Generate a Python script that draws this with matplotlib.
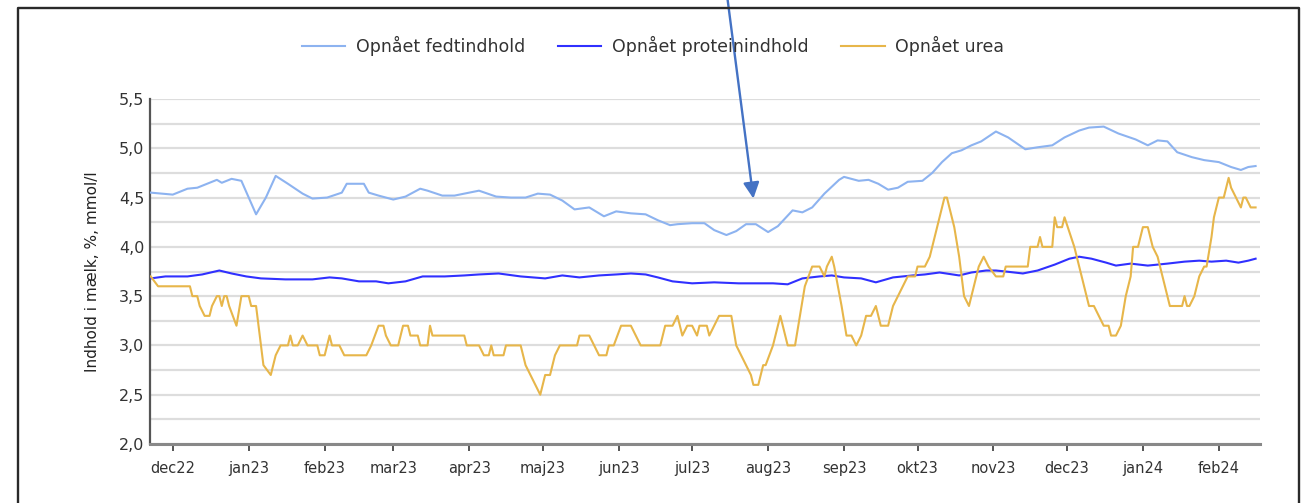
import numpy as np
import pandas as pd
import matplotlib
matplotlib.use("Agg")
import matplotlib.pyplot as plt
from matplotlib.lines import Line2D
from matplotlib.ticker import MultipleLocator, FixedLocator

# day offsets are counted from 1 Dec 2022
base_date = pd.Timestamp("2022-12-01")

fat_days = [-9, 0, 6, 10, 14, 18, 20, 24, 28, 31, 34, 38, 42, 47, 53, 57, 63, 69, 71, 78,
            80, 84, 90, 95, 101, 104, 110, 115, 125, 132, 138, 144, 149, 154, 159, 164,
            170, 176, 181, 187, 193, 198, 203, 206, 212, 217, 221, 226, 230, 234, 238,
            243, 247, 253, 257, 261, 266, 272, 274, 280, 284, 288, 292, 296, 300, 306,
            310, 314, 318, 322, 326, 330, 336, 341, 348, 353, 359, 364, 370, 374, 380,
            386, 393, 398, 402, 406, 410, 416, 421, 427, 432, 436, 439, 442]
fat_values = [4.55, 4.53, 4.59, 4.60, 4.64, 4.68, 4.65, 4.69, 4.67, 4.50, 4.33, 4.50, 4.72,
              4.64, 4.54, 4.49, 4.50, 4.55, 4.64, 4.64, 4.55, 4.52, 4.48, 4.51, 4.59, 4.57,
              4.52, 4.52, 4.57, 4.51, 4.50, 4.50, 4.54, 4.53, 4.47, 4.38, 4.40, 4.31, 4.36,
              4.34, 4.33, 4.27, 4.22, 4.23, 4.24, 4.24, 4.17, 4.12, 4.16, 4.23, 4.23, 4.15,
              4.21, 4.37, 4.35, 4.40, 4.54, 4.68, 4.71, 4.67, 4.68, 4.64, 4.58, 4.60, 4.66,
              4.67, 4.75, 4.86, 4.95, 4.98, 5.03, 5.07, 5.17, 5.11, 4.99, 5.01, 5.03, 5.11,
              5.18, 5.21, 5.22, 5.15, 5.09, 5.03, 5.08, 5.07, 4.96, 4.91, 4.88, 4.86, 4.81,
              4.78, 4.81, 4.82]

protein_days = [-9, -3, 6, 12, 19, 24, 30, 36, 46, 57, 64, 69, 76, 83, 88, 95, 102, 107,
                111, 119, 125, 133, 142, 152, 159, 166, 174, 181, 187, 193, 198, 204, 212,
                221, 231, 245, 251, 257, 264, 269, 274, 281, 287, 294, 302, 307, 313, 321,
                326, 332, 336, 340, 347, 353, 360, 366, 370, 375, 381, 385, 391, 398, 406,
                413, 419, 424, 430, 435, 439, 442]
protein_values = [3.68, 3.70, 3.70, 3.72, 3.76, 3.73, 3.70, 3.68, 3.67, 3.67, 3.69, 3.68,
                  3.65, 3.65, 3.63, 3.65, 3.70, 3.70, 3.70, 3.71, 3.72, 3.73, 3.70, 3.68,
                  3.71, 3.69, 3.71, 3.72, 3.73, 3.72, 3.69, 3.65, 3.63, 3.64, 3.63, 3.63,
                  3.62, 3.68, 3.70, 3.71, 3.69, 3.68, 3.64, 3.69, 3.71, 3.72, 3.74, 3.71,
                  3.74, 3.76, 3.76, 3.75, 3.73, 3.76, 3.82, 3.88, 3.90, 3.88, 3.84, 3.81,
                  3.83, 3.81, 3.83, 3.85, 3.86, 3.85, 3.86, 3.84, 3.86, 3.88]

urea_days = [-9, -6, 7, 8, 10, 11, 13, 15, 16, 18, 19, 20, 21, 22, 23, 26, 28, 31, 32, 34,
             36, 37, 40, 42, 44, 47, 48, 49, 51, 53, 55, 59, 60, 62, 64, 65, 68, 70, 79, 81,
             84, 86, 87, 89, 92, 94, 96, 97, 100, 101, 104, 105, 106, 119, 120, 125, 127,
             129, 130, 131, 135, 136, 142, 144, 146, 148, 150, 152, 154, 156, 158, 165, 166,
             170, 172, 174, 177, 178, 180, 183, 187, 189, 191, 199, 201, 204, 206, 208, 210,
             212, 214, 215, 218, 219, 221, 223, 228, 230, 234, 236, 237, 239, 241, 242, 245,
             248, 249, 251, 254, 256, 258, 261, 264, 266, 267, 269, 270, 273, 275, 277, 279,
             281, 283, 285, 287, 289, 292, 294, 296, 298, 300, 303, 304, 307, 309, 311, 313,
             315, 316, 319, 321, 323, 325, 327, 329, 331, 333, 336, 339, 340, 349, 350, 353,
             354, 355, 359, 360, 361, 363, 364, 368, 370, 371, 374, 376, 378, 380, 382, 383,
             385, 387, 389, 391, 392, 394, 396, 398, 400, 402, 403, 406, 407, 412, 413, 414,
             415, 417, 419, 421, 422, 424, 425, 427, 429, 431, 432, 434, 436, 437, 438, 440,
             442]
urea_values = [3.7, 3.6, 3.6, 3.5, 3.5, 3.4, 3.3, 3.3, 3.4, 3.5, 3.5, 3.4, 3.5, 3.5, 3.4,
               3.2, 3.5, 3.5, 3.4, 3.4, 3.0, 2.8, 2.7, 2.9, 3.0, 3.0, 3.1, 3.0, 3.0, 3.1,
               3.0, 3.0, 2.9, 2.9, 3.1, 3.0, 3.0, 2.9, 2.9, 3.0, 3.2, 3.2, 3.1, 3.0, 3.0,
               3.2, 3.2, 3.1, 3.1, 3.0, 3.0, 3.2, 3.1, 3.1, 3.0, 3.0, 2.9, 2.9, 3.0, 2.9,
               2.9, 3.0, 3.0, 2.8, 2.7, 2.6, 2.5, 2.7, 2.7, 2.9, 3.0, 3.0, 3.1, 3.1, 3.0,
               2.9, 2.9, 3.0, 3.0, 3.2, 3.2, 3.1, 3.0, 3.0, 3.2, 3.2, 3.3, 3.1, 3.2, 3.2,
               3.1, 3.2, 3.2, 3.1, 3.2, 3.3, 3.3, 3.0, 2.8, 2.7, 2.6, 2.6, 2.8, 2.8, 3.0,
               3.3, 3.2, 3.0, 3.0, 3.3, 3.6, 3.8, 3.8, 3.7, 3.8, 3.9, 3.8, 3.4, 3.1, 3.1,
               3.0, 3.1, 3.3, 3.3, 3.4, 3.2, 3.2, 3.4, 3.5, 3.6, 3.7, 3.7, 3.8, 3.8, 3.9,
               4.1, 4.3, 4.5, 4.5, 4.2, 3.9, 3.5, 3.4, 3.6, 3.8, 3.9, 3.8, 3.7, 3.7, 3.8,
               3.8, 4.0, 4.0, 4.1, 4.0, 4.0, 4.3, 4.2, 4.2, 4.3, 4.0, 3.8, 3.7, 3.4, 3.4,
               3.3, 3.2, 3.2, 3.1, 3.1, 3.2, 3.5, 3.7, 4.0, 4.0, 4.2, 4.2, 4.0, 3.9, 3.8,
               3.5, 3.4, 3.4, 3.5, 3.4, 3.4, 3.5, 3.7, 3.8, 3.8, 4.1, 4.3, 4.5, 4.5, 4.7,
               4.6, 4.5, 4.4, 4.5, 4.5, 4.4, 4.4]

series_labels = ["Opnået fedtindhold", "Opnået proteinindhold", "Opnået urea"]
month_labels = ["dec22", "jan23", "feb23", "mar23", "apr23", "maj23", "jun23", "jul23",
                "aug23", "sep23", "okt23", "nov23", "dec23", "jan24", "feb24"]
y_label = "Indhold i mælk, %, mmol/l"

# point the arrow at the early-August dip of the fat curve
arrow_day = 237
arrow_value = 4.49


def to_dates(days):
    return base_date + pd.to_timedelta(np.asarray(days), unit="D")


plt.rcParams["font.family"] = ["DejaVu Sans"]

fig = plt.figure(figsize=(13.04, 5.03), dpi=100)
W, H = 1304, 503
ax = fig.add_axes([150 / W, 1 - 444 / H, (1260 - 150) / W, (444 - 99) / H])

colors = ["#8db3f0", "#3030ff", "#e7b64a"]
ax.plot(to_dates(fat_days), fat_values, color=colors[0], lw=1.5, label=series_labels[0], zorder=3)
ax.plot(to_dates(protein_days), protein_values, color=colors[1], lw=1.5, label=series_labels[1], zorder=3)
ax.plot(to_dates(urea_days), urea_values, color=colors[2], lw=1.5, label=series_labels[2], zorder=3)

ax.set_ylim(2.0, 5.5)
ax.set_xlim(base_date + pd.Timedelta(days=-9.3), base_date + pd.Timedelta(days=443.8))

ax.yaxis.set_major_locator(MultipleLocator(0.5))
ax.yaxis.set_minor_locator(MultipleLocator(0.25))
ax.set_yticklabels([f"{v:.1f}".replace(".", ",") for v in ax.get_yticks()])
ax.grid(axis="y", which="both", color="#dddddd", lw=1.6, zorder=0)
ax.set_axisbelow(True)

month_starts = pd.date_range(base_date, periods=len(month_labels), freq="MS")
ax.xaxis.set_major_locator(FixedLocator(matplotlib.dates.date2num(month_starts)))
ax.set_xticklabels(month_labels)

for side in ["top", "right"]:
    ax.spines[side].set_visible(False)
ax.spines["left"].set_color("#555555")
ax.spines["left"].set_linewidth(1.6)
ax.spines["bottom"].set_color("#888888")
ax.spines["bottom"].set_linewidth(2.2)

ax.tick_params(axis="y", which="both", length=0, pad=4, labelsize=11.5, labelcolor="#333333")
ax.tick_params(axis="x", length=5, width=1.4, color="#555555", pad=7, labelsize=10.5,
               labelcolor="#333333")

ax.set_ylabel(y_label, fontsize=11, color="#222222", labelpad=14)

fig.legend(loc="center", bbox_to_anchor=(653 / W, 1 - 46 / H), ncol=3, frameon=False,
           fontsize=12.5, handlelength=2.5, handletextpad=0.6, columnspacing=1.9,
           labelcolor="#333333")

ax.annotate("", xy=(base_date + pd.Timedelta(days=arrow_day), arrow_value), xycoords="data",
            xytext=(727 / W, 1.01), textcoords="figure fraction", annotation_clip=False,
            arrowprops=dict(arrowstyle="-|>", color="#4472c4", lw=1.7, mutation_scale=24,
                            shrinkA=0, shrinkB=0))

# outer frame (bottom edge is cut off in the screenshot)
fig.add_artist(Line2D([17.5 / W, 17.5 / W, 1298.5 / W, 1298.5 / W],
                      [-0.05, 1 - 7.5 / H, 1 - 7.5 / H, -0.05],
                      transform=fig.transFigure, color="#2a2a2a", lw=1.7))

fig.savefig("out.png", dpi=100)
